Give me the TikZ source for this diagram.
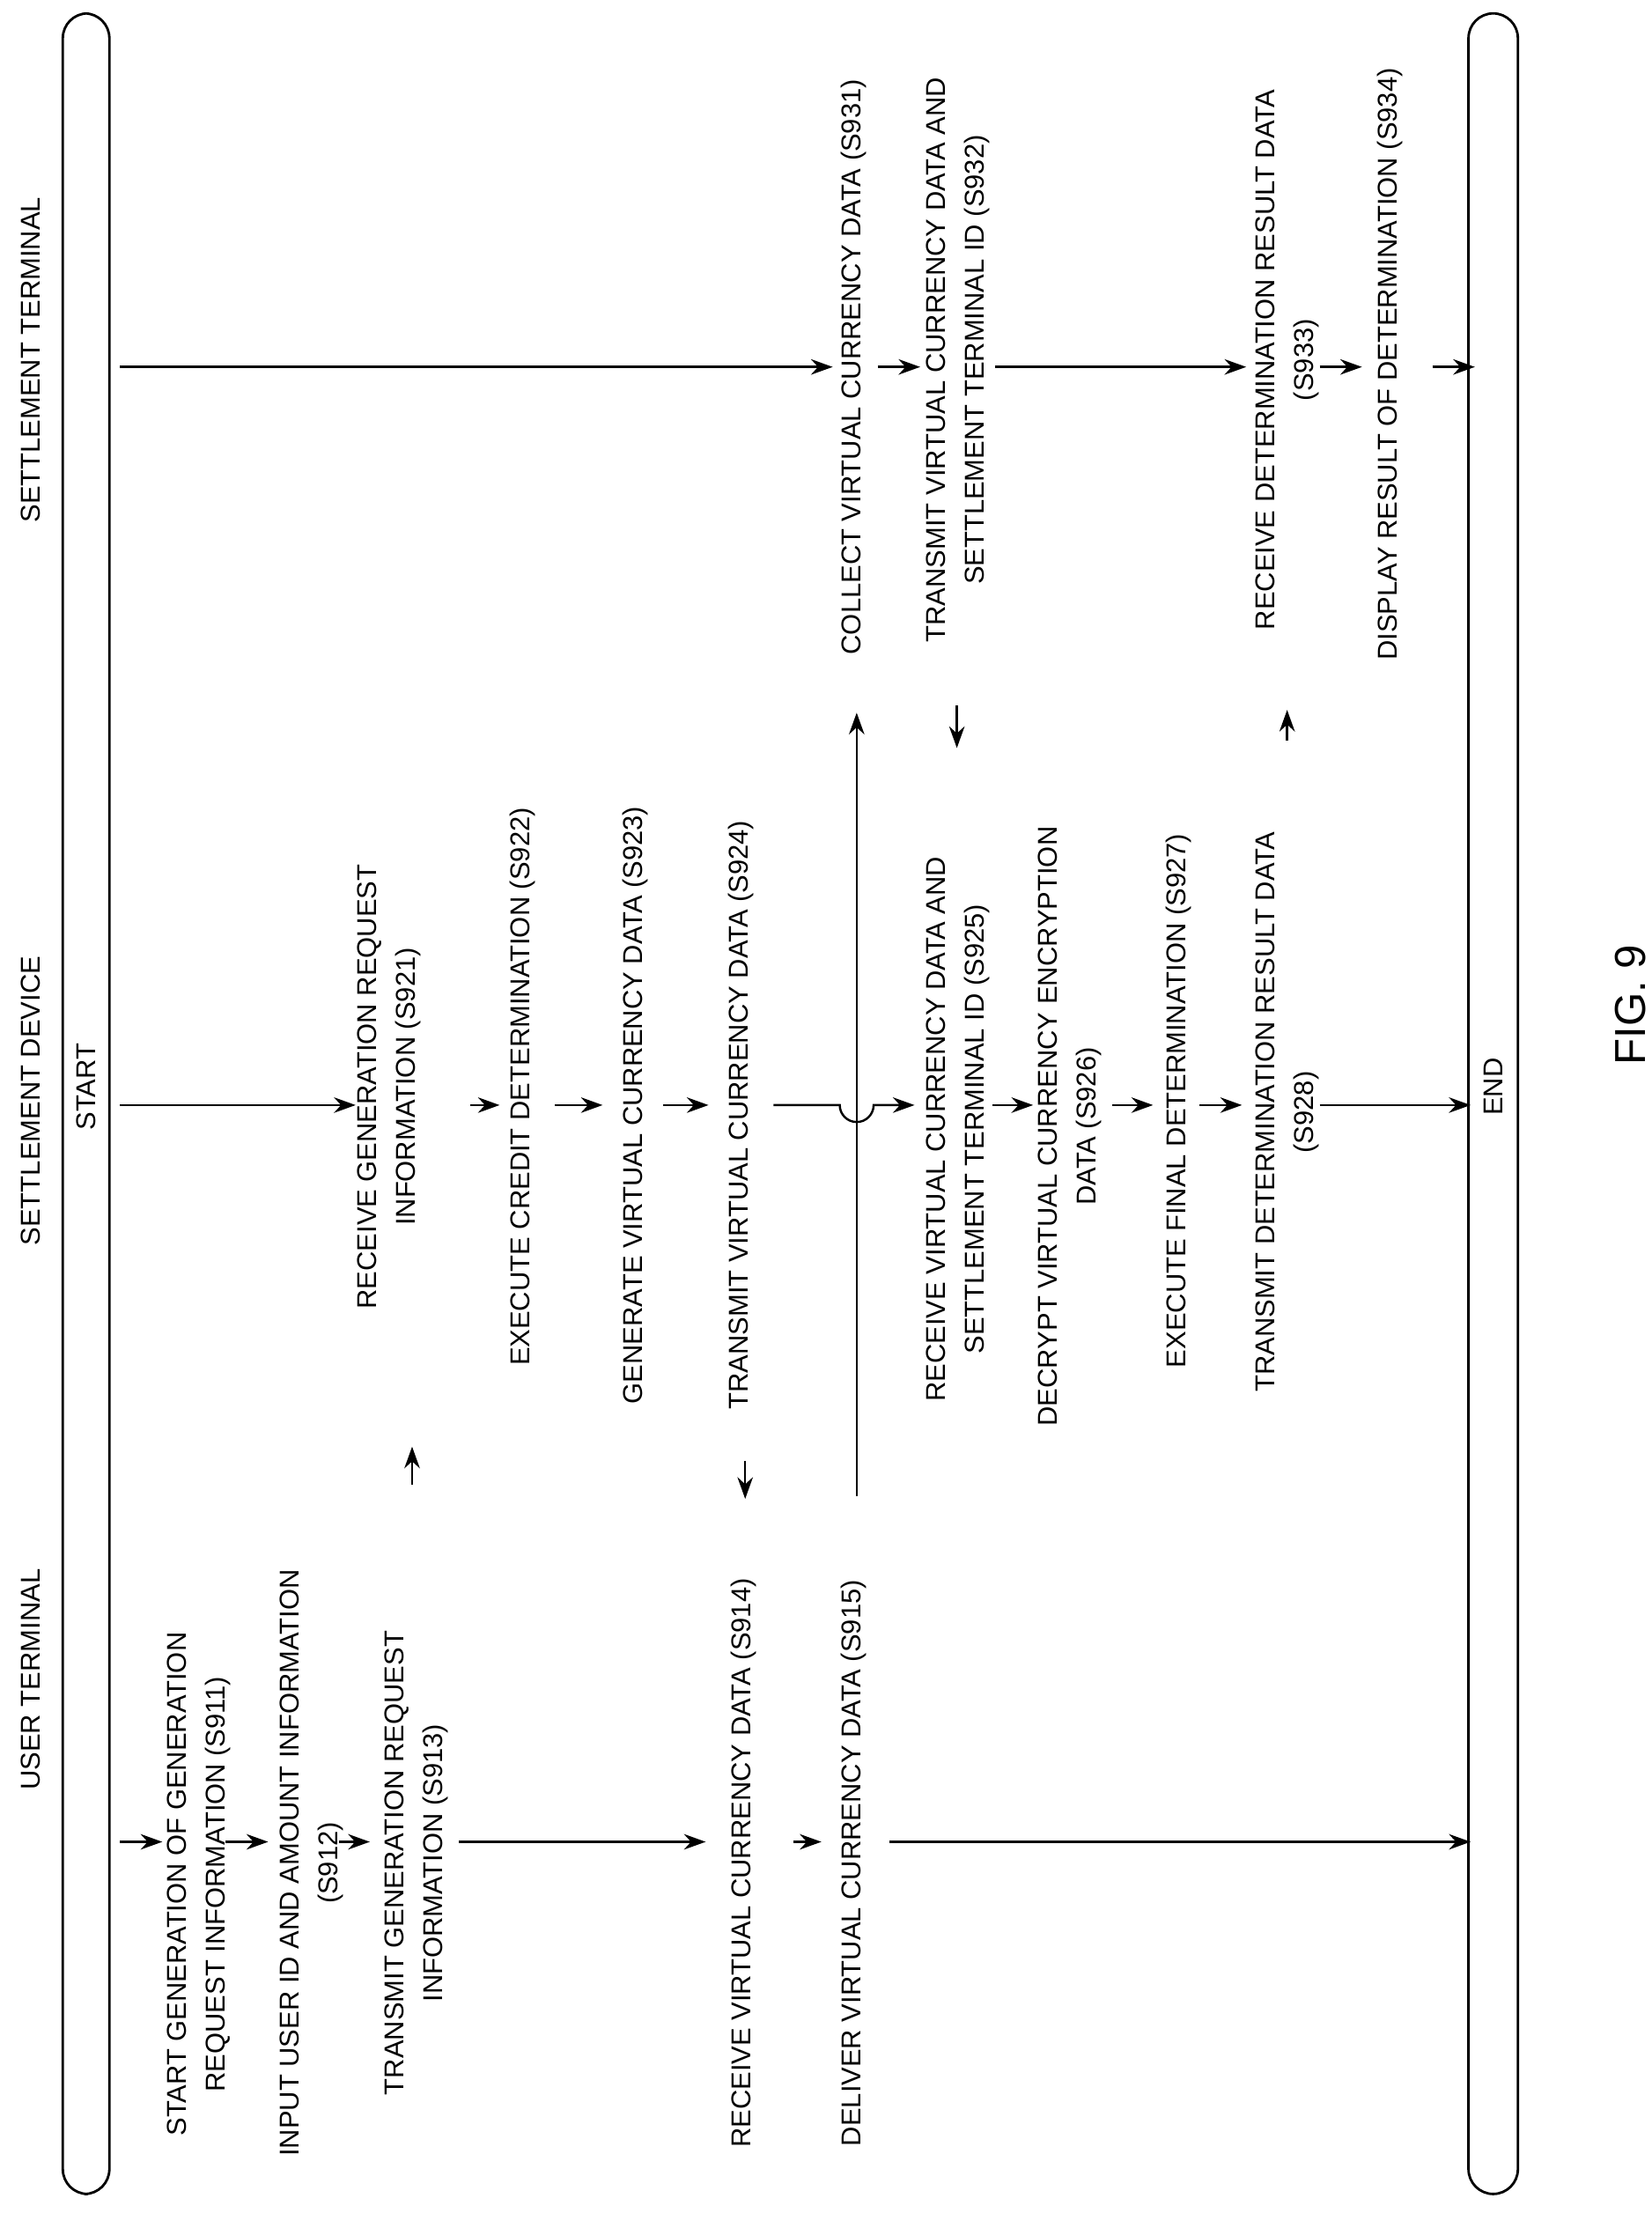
\documentclass[tikz,border=0pt]{standalone}
\usepackage{fontspec}
\setmainfont{Liberation Sans}
\usetikzlibrary{arrows.meta}
\begin{document}
\begin{tikzpicture}[x=0.016026cm,y=-0.016026cm,
  lbl/.style={rotate=90,align=center,font=\fontsize{8.8}{12.5}\selectfont,inner sep=0pt},
  arr/.style={-{Stealth[length=7pt,width=5pt]},line width=0.7pt},
  bar/.style={draw,line width=0.8pt,rounded corners=8pt}]
\useasboundingbox (0,0) rectangle (1170,1568);
% bars
\node[bar,minimum width=33*0.016026cm,minimum height=1545*0.016026cm,inner sep=0pt] (startbar) at (61,782) {};
\node[bar,minimum width=35*0.016026cm,minimum height=1545*0.016026cm,inner sep=0pt] (endbar) at (1058,782) {};
\node[lbl] (st) at (61,770) {START};
\node[lbl] (en) at (1058,770) {END};
% lane titles
\node[lbl] (ut) at (22,1190) {USER TERMINAL};
\node[lbl] (sd) at (22,780) {SETTLEMENT DEVICE};
\node[lbl] (stt) at (22,255) {SETTLEMENT TERMINAL};
\node[lbl,font=\fontsize{14}{16}\selectfont] (fig) at (1155,712) {FIG. 9};
% user lane
\node[lbl] (s911) at (141,1335) {START GENERATION OF GENERATION\\REQUEST INFORMATION (S911)};
\node[lbl] (s912) at (221,1320) {INPUT USER ID AND AMOUNT INFORMATION\\(S912)};
\node[lbl] (s913) at (295,1320) {TRANSMIT GENERATION REQUEST\\INFORMATION (S913)};
\node[lbl] (s914) at (527,1320) {RECEIVE VIRTUAL CURRENCY DATA (S914)};
\node[lbl] (s915) at (605,1320) {DELIVER VIRTUAL CURRENCY DATA (S915)};
% device lane
\node[lbl] (s921) at (276,770) {RECEIVE GENERATION REQUEST\\INFORMATION (S921)};
\node[lbl] (s922) at (370,770) {EXECUTE CREDIT DETERMINATION (S922)};
\node[lbl] (s923) at (450,783) {GENERATE VIRTUAL CURRENCY DATA (S923)};
\node[lbl] (s924) at (525,790) {TRANSMIT VIRTUAL CURRENCY DATA (S924)};
\node[lbl] (s925) at (679,800) {RECEIVE VIRTUAL CURRENCY DATA AND\\SETTLEMENT TERMINAL ID (S925)};
\node[lbl] (s926) at (758,798) {DECRYPT VIRTUAL CURRENCY ENCRYPTION\\DATA (S926)};
\node[lbl] (s927) at (835,780) {EXECUTE FINAL DETERMINATION (S927)};
\node[lbl] (s928) at (912,788) {TRANSMIT DETERMINATION RESULT DATA\\(S928)};
% terminal lane
\node[lbl] (s931) at (605,260) {COLLECT VIRTUAL CURRENCY DATA (S931)};
\node[lbl] (s932) at (679,255) {TRANSMIT VIRTUAL CURRENCY DATA AND\\SETTLEMENT TERMINAL ID (S932)};
\node[lbl] (s933) at (912,255) {RECEIVE DETERMINATION RESULT DATA\\(S933)};
\node[lbl] (s934) at (985,258) {DISPLAY RESULT OF DETERMINATION (S934)};
% user arrows
\draw[arr] (85,1305) -- (115,1305);
\draw[arr] (160,1305) -- (190,1305);
\draw[arr] (240,1305) -- (262,1305);
\draw[arr] (325,1305) -- (500,1305);
\draw[arr] (562,1305) -- (582,1305);
\draw[arr] (630,1305) -- (1042,1305);
% device arrows
\draw[arr] (85,783) -- (252,783);
\draw[arr] (333,783) -- (354,783);
\draw[arr] (393,783) -- (427,783);
\draw[arr] (470,783) -- (502,783);
\draw[arr] (548,783) -- (595,783) arc[start angle=180,end angle=0,x radius=12,y radius=12] -- (648,783);
\draw[arr] (703,783) -- (732,783);
\draw[arr] (788,783) -- (817,783);
\draw[arr] (850,783) -- (880,783);
\draw[arr] (935,783) -- (1042,783);
% terminal arrows
\draw[arr] (85,260) -- (590,260);
\draw[arr] (622,260) -- (652,260);
\draw[arr] (705,260) -- (883,260);
\draw[arr] (935,260) -- (965,260);
\draw[arr] (1015,260) -- (1045,260);
% cross-lane arrows
\draw[arr] (292,1052) -- (292,1025);
\draw[arr] (528,1035) -- (528,1062);
\draw[arr] (607,1060) -- (607,505);
\draw[arr] (678,500) -- (678,530);
\draw[arr] (912,525) -- (912,503);
\end{tikzpicture}
\end{document}
